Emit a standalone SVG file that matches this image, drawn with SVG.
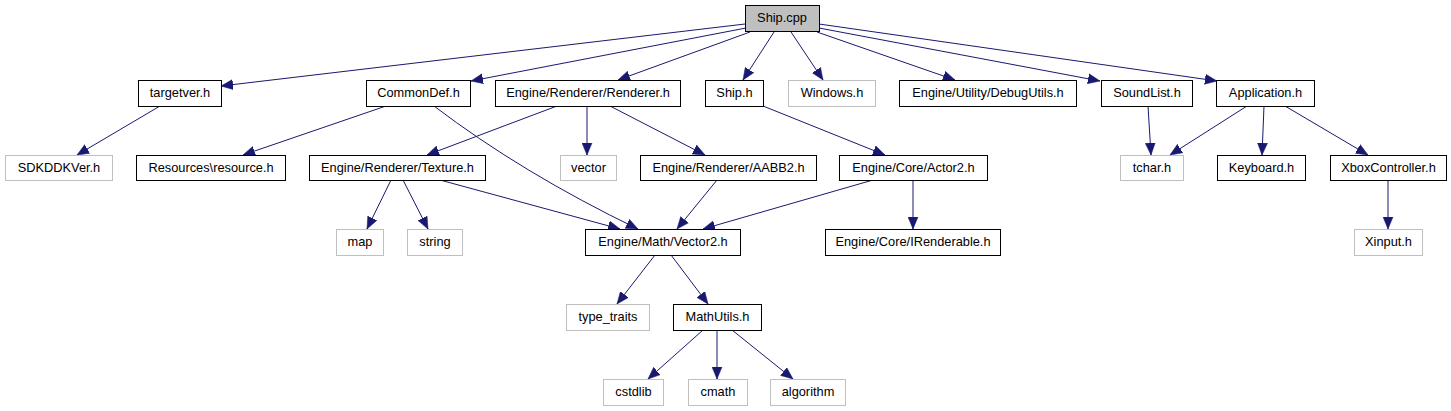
<svg xmlns="http://www.w3.org/2000/svg" width="1451" height="411" viewBox="0 0 1451 411">
<style>
.n rect{fill:#fff;stroke:#000;stroke-width:1}
.g rect{fill:#fff;stroke:#bfbfbf;stroke-width:1}
.root rect{fill:#bfbfbf;stroke:#000;stroke-width:1}
text{font-family:"Liberation Sans",Arial,sans-serif;font-size:12.8px;fill:#000;text-anchor:middle}
.e path{fill:none;stroke:#191970;stroke-width:1;marker-end:url(#ah)}
</style>
<defs>
<marker id="ah" markerUnits="userSpaceOnUse" markerWidth="13" markerHeight="11" refX="12" refY="5" orient="auto" viewBox="0 0 13 10">
<path d="M0,0 L12,5 L0,10 Z" fill="#191970" stroke="#191970" stroke-width="0.5"/>
</marker>
</defs>
<rect width="1451" height="411" fill="#fff"/>
<g id="edges" class="e">
<path d="M745,24 L221,86"/>
<path d="M746,28 L471,81"/>
<path d="M750,32 L618,80"/>
<path d="M774,32 L743,80"/>
<path d="M791,32 L823,80"/>
<path d="M817,32 L955,80"/>
<path d="M819,28 L1100,81"/>
<path d="M819,24 L1217,81"/>
<path d="M160,106 L77,155"/>
<path d="M386,106 L243,155"/>
<path d="M434,106 Q522,173 638,229"/>
<path d="M557,106 L427,155"/>
<path d="M587,106 L587,155"/>
<path d="M610,106 L705,155"/>
<path d="M763,106 L885,155"/>
<path d="M1148,106 L1151,155"/>
<path d="M1247,106 L1170,155"/>
<path d="M1264,106 L1262,155"/>
<path d="M1285,106 L1368,155"/>
<path d="M391,180 L367,229"/>
<path d="M403,180 L428,229"/>
<path d="M440,180 L620,229"/>
<path d="M717,180 L677,229"/>
<path d="M873,180 L703,229"/>
<path d="M913,180 L913,229"/>
<path d="M1388,180 L1388,229"/>
<path d="M655,255 L617,304"/>
<path d="M671,255 L708,304"/>
<path d="M703,330 L648,379"/>
<path d="M717,330 L717,379"/>
<path d="M732,330 L793,379"/>
</g>
<g id="ship_cpp" class="root"><rect x="745.5" y="5.5" width="74" height="26"/><text x="782" y="22">Ship.cpp</text></g>
<g id="targetver_h" class="n"><rect x="138.5" y="80.5" width="83" height="26"/><text x="180" y="97">targetver.h</text></g>
<g id="commondef_h" class="n"><rect x="366.5" y="80.5" width="104" height="26"/><text x="418.5" y="97">CommonDef.h</text></g>
<g id="renderer_h" class="n"><rect x="495.5" y="80.5" width="185" height="26"/><text x="588" y="97">Engine/Renderer/Renderer.h</text></g>
<g id="ship_h" class="n"><rect x="705.5" y="80.5" width="58" height="26"/><text x="734.5" y="97">Ship.h</text></g>
<g id="windows_h" class="g"><rect x="788.5" y="80.5" width="87" height="26"/><text x="832" y="97">Windows.h</text></g>
<g id="debugutils_h" class="n"><rect x="899.5" y="80.5" width="177" height="26"/><text x="988" y="97">Engine/Utility/DebugUtils.h</text></g>
<g id="soundlist_h" class="n"><rect x="1101.5" y="80.5" width="91" height="26"/><text x="1147" y="97">SoundList.h</text></g>
<g id="application_h" class="n"><rect x="1216.5" y="80.5" width="98" height="26"/><text x="1265.5" y="97">Application.h</text></g>
<g id="sdkddkver_h" class="g"><rect x="5.5" y="155.5" width="107" height="25"/><text x="59" y="172">SDKDDKVer.h</text></g>
<g id="resource_h" class="n"><rect x="136.5" y="155.5" width="149" height="25"/><text x="211" y="172">Resources\resource.h</text></g>
<g id="texture_h" class="n"><rect x="309.5" y="155.5" width="176" height="25"/><text x="397.5" y="172">Engine/Renderer/Texture.h</text></g>
<g id="vector" class="g"><rect x="560.5" y="155.5" width="56" height="25"/><text x="588.5" y="172">vector</text></g>
<g id="aabb2_h" class="n"><rect x="640.5" y="155.5" width="176" height="25"/><text x="728.5" y="172">Engine/Renderer/AABB2.h</text></g>
<g id="actor2_h" class="n"><rect x="839.5" y="155.5" width="148" height="25"/><text x="913.5" y="172">Engine/Core/Actor2.h</text></g>
<g id="tchar_h" class="g"><rect x="1120.5" y="155.5" width="63" height="25"/><text x="1152" y="172">tchar.h</text></g>
<g id="keyboard_h" class="n"><rect x="1217.5" y="155.5" width="88" height="25"/><text x="1261.5" y="172">Keyboard.h</text></g>
<g id="xboxcontroller_h" class="n"><rect x="1330.5" y="155.5" width="116" height="25"/><text x="1388.5" y="172">XboxController.h</text></g>
<g id="map" class="g"><rect x="336.5" y="229.5" width="47" height="26"/><text x="360" y="246">map</text></g>
<g id="string" class="g"><rect x="407.5" y="229.5" width="55" height="26"/><text x="435" y="246">string</text></g>
<g id="vector2_h" class="n"><rect x="585.5" y="229.5" width="155" height="26"/><text x="663" y="246">Engine/Math/Vector2.h</text></g>
<g id="irenderable_h" class="n"><rect x="825.5" y="229.5" width="175" height="26"/><text x="913" y="246">Engine/Core/IRenderable.h</text></g>
<g id="xinput_h" class="g"><rect x="1354.5" y="229.5" width="68" height="26"/><text x="1388.5" y="246">Xinput.h</text></g>
<g id="type_traits" class="g"><rect x="566.5" y="304.5" width="83" height="26"/><text x="608" y="321">type_traits</text></g>
<g id="mathutils_h" class="n"><rect x="673.5" y="304.5" width="88" height="26"/><text x="717.5" y="321">MathUtils.h</text></g>
<g id="cstdlib" class="g"><rect x="603.5" y="379.5" width="60" height="26"/><text x="633.5" y="396">cstdlib</text></g>
<g id="cmath" class="g"><rect x="688.5" y="379.5" width="59" height="26"/><text x="718" y="396">cmath</text></g>
<g id="algorithm" class="g"><rect x="770.5" y="379.5" width="75" height="26"/><text x="808" y="396">algorithm</text></g>
</svg>
